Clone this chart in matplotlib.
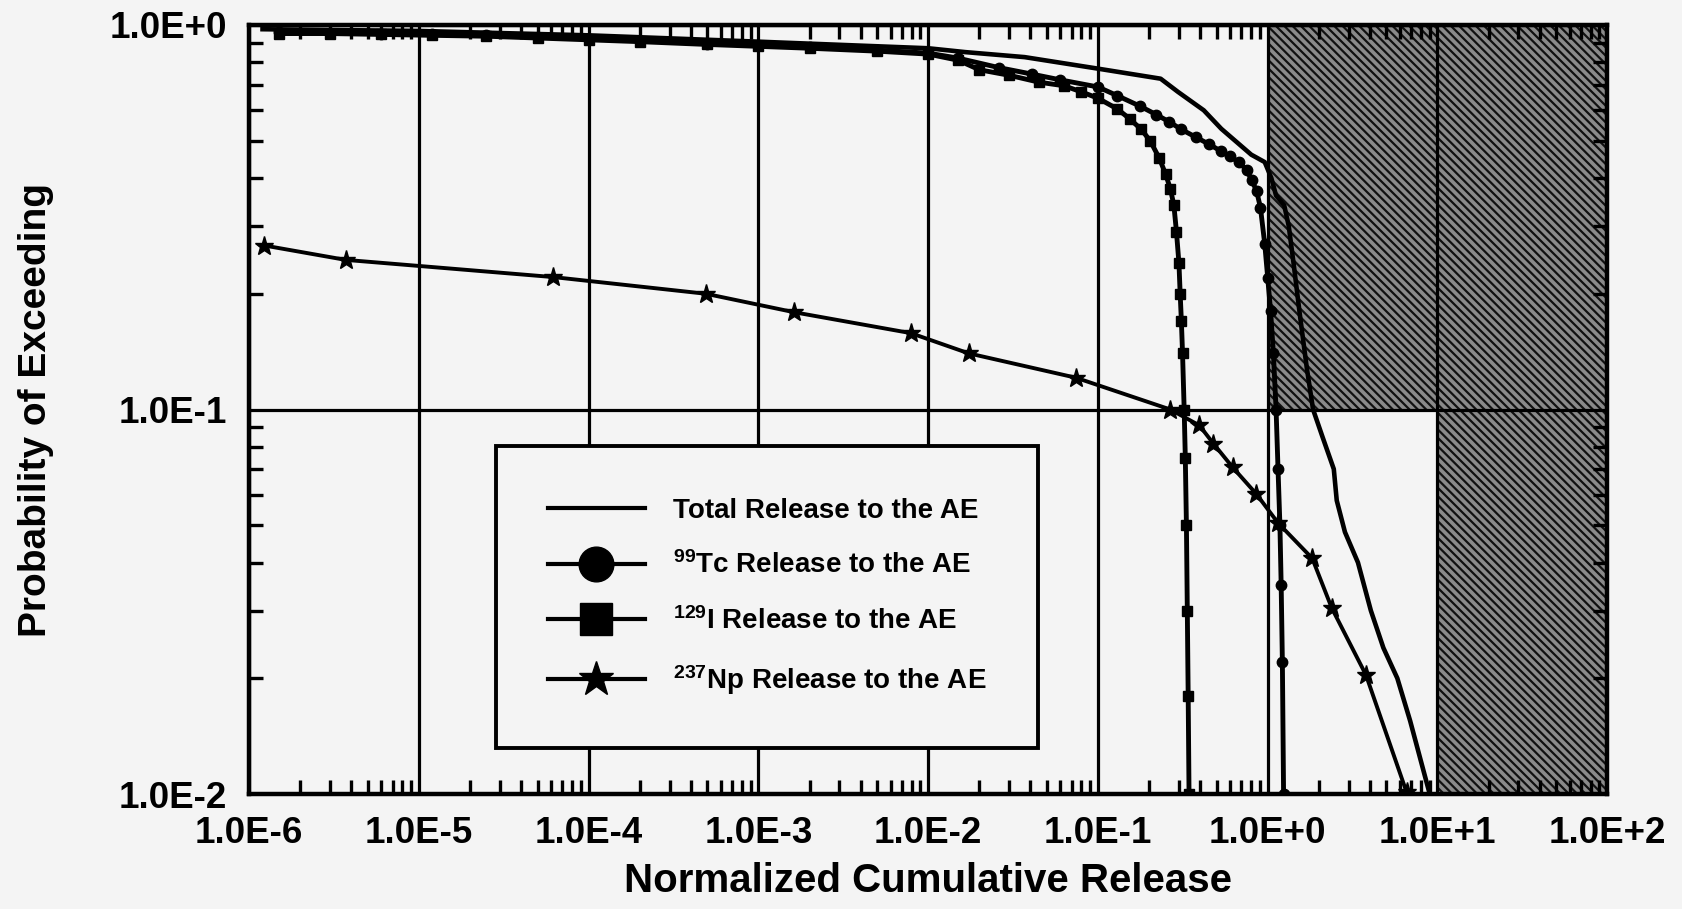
import matplotlib.pyplot as plt
from matplotlib.lines import Line2D
import matplotlib.ticker as mticker
import numpy as np

plt.rcParams['font.family'] = ['Liberation Sans', 'DejaVu Sans']
plt.rcParams['font.weight'] = 'bold'
plt.rcParams['mathtext.fontset'] = 'custom'
plt.rcParams['mathtext.rm'] = 'Liberation Sans:bold'
plt.rcParams['mathtext.default'] = 'rm'
plt.rcParams['hatch.linewidth'] = 1.6

# total release (plain line)
total_x = [1.2e-6, 1e-5, 1e-4, 1e-3, 1e-2, 0.0166, 0.037, 0.1, 0.234, 0.296, 0.42, 0.533,
           0.8, 0.96, 1.05, 1.12, 1.25, 1.33, 1.42, 1.55, 1.7, 1.85, 2.1, 2.45, 2.55,
           2.85, 3.4, 4.05, 4.8, 5.8, 6.9, 9.0]
total_y = [0.975, 0.965, 0.94, 0.905, 0.87, 0.85, 0.825, 0.77, 0.725, 0.67, 0.6, 0.537,
           0.46, 0.44, 0.4, 0.36, 0.34, 0.3, 0.24, 0.175, 0.128, 0.1, 0.085, 0.07, 0.058,
           0.048, 0.04, 0.03, 0.024, 0.02, 0.0155, 0.01]

# 99Tc (circles)
tc_x = [1.5e-6, 3e-6, 6e-6, 1.2e-5, 2.5e-5, 5e-5, 1e-4, 2e-4, 5e-4, 1e-3, 2e-3, 5e-3,
        1e-2, 0.015, 0.026, 0.041, 0.06, 0.1, 0.13, 0.177, 0.22, 0.263, 0.31, 0.38,
        0.45, 0.53, 0.6, 0.675, 0.75, 0.805, 0.86, 0.906, 0.96, 1.0, 1.04, 1.08, 1.12,
        1.15, 1.18, 1.2, 1.22, 1.24]
tc_y = [0.96, 0.955, 0.95, 0.945, 0.94, 0.93, 0.92, 0.91, 0.895, 0.885, 0.875, 0.86,
        0.845, 0.82, 0.775, 0.745, 0.72, 0.69, 0.655, 0.615, 0.585, 0.56, 0.535, 0.51,
        0.49, 0.47, 0.455, 0.44, 0.42, 0.395, 0.37, 0.335, 0.27, 0.22, 0.18, 0.14, 0.1,
        0.07, 0.05, 0.035, 0.022, 0.01]

# 129I (squares)
i_x = [1.5e-6, 3e-6, 6e-6, 1.2e-5, 2.5e-5, 5e-5, 1e-4, 2e-4, 5e-4, 1e-3, 2e-3, 5e-3,
       1e-2, 0.015, 0.02, 0.03, 0.045, 0.063, 0.08, 0.1, 0.13, 0.154, 0.18, 0.203,
       0.23, 0.25, 0.267, 0.28, 0.29, 0.3, 0.305, 0.31, 0.315, 0.322, 0.327, 0.332,
       0.336, 0.34, 0.344]
i_y = [0.95, 0.95, 0.945, 0.94, 0.935, 0.925, 0.915, 0.905, 0.89, 0.88, 0.87, 0.855,
       0.84, 0.81, 0.765, 0.74, 0.71, 0.695, 0.67, 0.645, 0.605, 0.57, 0.535, 0.5,
       0.45, 0.41, 0.375, 0.34, 0.29, 0.24, 0.2, 0.17, 0.14, 0.1, 0.075, 0.05, 0.03,
       0.018, 0.01]

# 237Np (stars)
np_x = [1.23e-6, 3.7e-6, 6.2e-5, 4.9e-4, 1.63e-3, 7.9e-3, 0.0173, 0.074, 0.267, 0.396,
        0.479, 0.622, 0.857, 1.15, 1.83, 2.38, 3.79, 6.58]
np_y = [0.267, 0.245, 0.221, 0.2, 0.179, 0.158, 0.14, 0.121, 0.1, 0.0909, 0.0815,
        0.0707, 0.0603, 0.0507, 0.041, 0.0305, 0.0204, 0.0101]

# release limit region
limit_x = [1, 10, 100]
limit_y = [0.1, 0.01, 0.01]

labels = ['Total Release to the AE', r'$^{99}$Tc Release to the AE',
          r'$^{129}$I Release to the AE', r'$^{237}$Np Release to the AE']

bg = '#f4f4f4'
fig = plt.figure(figsize=(16.83, 9.09), dpi=100, facecolor=bg)
ax = fig.add_axes([0.148, 0.1265, 0.807, 0.846])
ax.set_facecolor(bg)
ax.set_xscale('log')
ax.set_yscale('log')
ax.set_xlim(1e-6, 1e2)
ax.set_ylim(1e-2, 1)

ax.fill_between(limit_x, limit_y, 1, step='post', facecolor='#8a8a8a',
                edgecolor='#111111', linewidth=0, hatch='\\\\\\\\', zorder=1)

ax.grid(True, which='major', color='black', linewidth=2.3, zorder=2)
ax.set_axisbelow(False)

ax.plot(total_x, total_y, color='black', lw=3.3, zorder=4)
ax.plot(tc_x, tc_y, color='black', lw=3.5, marker='o', ms=7.5, zorder=4)
ax.plot(i_x, i_y, color='black', lw=3.5, marker='s', ms=6.5, zorder=4)
ax.plot(np_x, np_y, color='black', lw=2.8, marker='*', ms=14, zorder=4)

fmt = mticker.FuncFormatter(lambda v, p: '1.0E%+d' % round(np.log10(v)))
ax.xaxis.set_major_formatter(fmt)
ax.yaxis.set_major_formatter(fmt)
ax.xaxis.set_major_locator(mticker.LogLocator(base=10, numticks=20))
ax.xaxis.set_minor_locator(mticker.LogLocator(base=10, subs=np.arange(2, 10), numticks=20))
ax.yaxis.set_minor_locator(mticker.LogLocator(base=10, subs=np.arange(2, 10), numticks=20))
ax.xaxis.set_minor_formatter(mticker.NullFormatter())
ax.yaxis.set_minor_formatter(mticker.NullFormatter())
ax.tick_params(which='both', direction='in', top=True, right=True, color='black')
ax.tick_params(which='major', length=0, labelsize=26.5, pad=16)
ax.tick_params(which='minor', length=10, width=2.4)
for s in ax.spines.values():
    s.set_linewidth(3.2)

ax.set_xlabel('Normalized Cumulative Release', fontsize=29, fontweight='bold', labelpad=8)
ax.set_ylabel('Probability of Exceeding', fontsize=28, fontweight='bold', labelpad=40)

handles = [Line2D([], [], color='black', lw=3),
           Line2D([], [], color='black', lw=3, marker='o', ms=25),
           Line2D([], [], color='black', lw=3, marker='s', ms=23),
           Line2D([], [], color='black', lw=3, marker='*', ms=26)]
leg = ax.legend(handles, labels, loc='upper left', bbox_to_anchor=(0.182, 0.452),
                fontsize=20, frameon=True, fancybox=False, edgecolor='black',
                facecolor=bg, framealpha=1, handlelength=3.5, handletextpad=1.0,
                labelspacing=1.0, borderpad=1.85, borderaxespad=0)
leg.get_frame().set_linewidth(2.8)
leg.set_zorder(5)

fig.savefig('out.png', dpi=100, facecolor=bg)
